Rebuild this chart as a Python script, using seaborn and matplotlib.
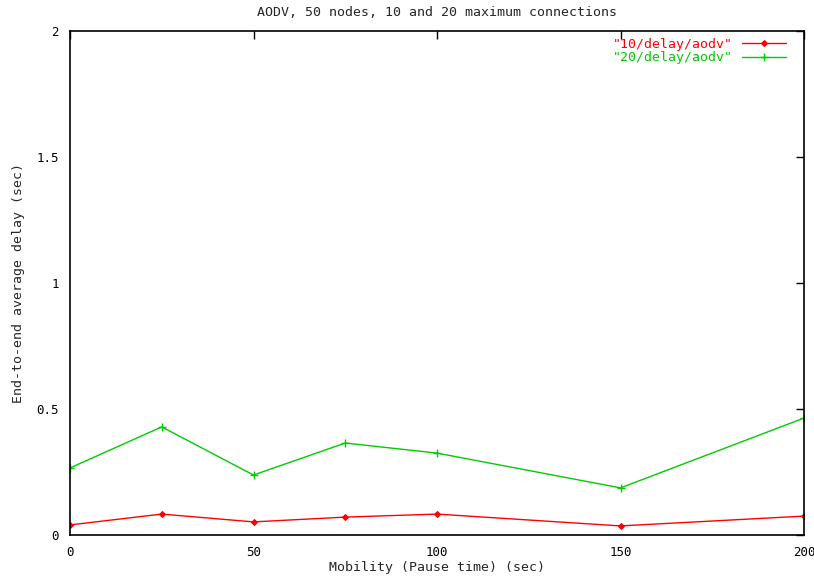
import matplotlib
matplotlib.use("Agg")
import matplotlib.pyplot as plt
import seaborn as sns
import pandas as pd

pause_time = [0, 25, 50, 75, 100, 150, 200]
delay_10 = [0.040, 0.083, 0.052, 0.071, 0.083, 0.036, 0.075]
delay_20 = [0.266, 0.429, 0.238, 0.365, 0.325, 0.187, 0.464]
series_names = ['"10/delay/aodv"', '"20/delay/aodv"']
x_ticks = [0, 50, 100, 150, 200]
y_ticks = [0, 0.5, 1, 1.5, 2]
y_tick_labels = ["0", "0.5", "1", "1.5", "2"]

df10 = pd.DataFrame({"x": pause_time, "y": delay_10})
df20 = pd.DataFrame({"x": pause_time, "y": delay_20})

sns.set_style("white")
plt.rcParams["font.family"] = ["DejaVu Sans Mono"]

fig = plt.figure(figsize=(8.14, 5.76), dpi=100)
ax = fig.add_axes([70 / 814, 41 / 576, 734 / 814, 504 / 576])

sns.lineplot(data=df10, x="x", y="y", ax=ax, color="#ff0000", linewidth=1.0,
             marker="D", markersize=3, markeredgewidth=0.8,
             markeredgecolor="#ff0000", markerfacecolor="#ff0000",
             label=series_names[0])
sns.lineplot(data=df20, x="x", y="y", ax=ax, color="#00cc00", linewidth=1.0,
             marker="+", markersize=5.5, markeredgewidth=1.0,
             markeredgecolor="#00cc00", label=series_names[1])

ax.set_xlim(0, 200)
ax.set_ylim(0, 2)
ax.set_xticks(x_ticks)
ax.set_yticks(y_ticks)
ax.set_yticklabels(y_tick_labels)
ax.tick_params(direction="in", length=6, width=1, top=True, right=True,
               labelsize=9, colors="black", pad=8)
for s in ax.spines.values():
    s.set_color("black")
    s.set_linewidth(1.2)

ax.set_xlabel("Mobility (Pause time) (sec)", fontsize=9.5, labelpad=1)
ax.set_ylabel("End-to-end average delay (sec)", fontsize=9.5, labelpad=8)
ax.set_title("AODV, 50 nodes, 10 and 20 maximum connections", fontsize=9.5, pad=11)

leg = ax.legend(loc="upper right", bbox_to_anchor=(0.982, 0.997), frameon=False,
                markerfirst=False, labelcolor="linecolor", fontsize=9.5,
                handlelength=3.3, borderaxespad=0.0, labelspacing=0.05,
                handletextpad=0.7)
fig.savefig("out.png", dpi=100)
